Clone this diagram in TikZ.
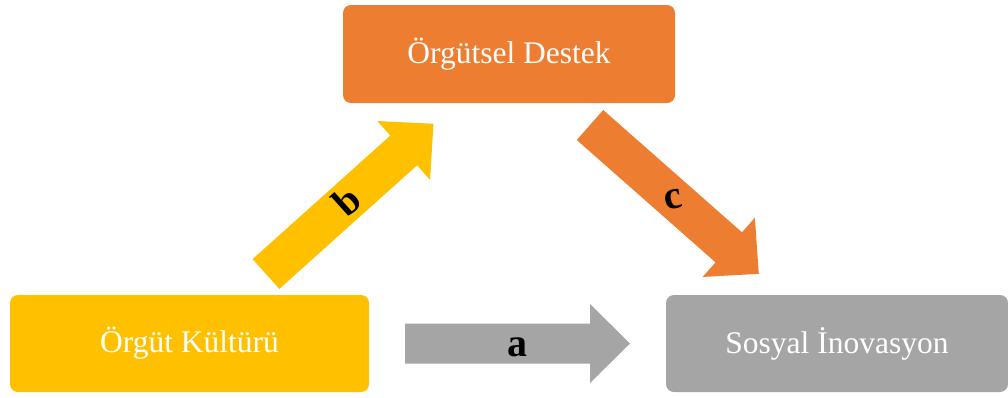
\documentclass[tikz,border=0pt]{standalone}
\usepackage{fontspec}
\setmainfont{Liberation Serif}
\definecolor{orgorange}{HTML}{ED7D31}
\definecolor{orgyellow}{HTML}{FFC000}
\definecolor{orggray}{HTML}{A5A5A5}
% filled block arrow: tail centre, angle, colour
\newcommand\blockarrow[3]{%
  \fill[#3, shift={#1}, rotate=#2]
    (0,-20) -- (185,-20) -- (185,-39.5) -- (225,0) -- (185,39.5) -- (185,20) -- (0,20) -- cycle;}
\begin{document}
\begin{tikzpicture}[x=1pt, y=-1pt,
  box/.style={rectangle, rounded corners=8pt, draw=none, text=white,
    font=\fontsize{31.5}{36}\selectfont, inner sep=0pt},
  arrowlabel/.style={font=\fontsize{40}{44}\selectfont\bfseries, text=black, inner sep=0pt}]
\useasboundingbox (0,0) rectangle (1008,397);

% boxes
\node[box, fill=orgorange, minimum width=332pt, minimum height=98pt] (destek) at (509,54) {Örgütsel Destek};
\node[box, fill=orgyellow, minimum width=359pt, minimum height=97pt] (kultur) at (189.5,343.5) {Örgüt Kültürü};
\node[box, fill=orggray, minimum width=342pt, minimum height=97pt] (inovasyon) at (837,343.5) {Sosyal İnovasyon};

% block arrows
\blockarrow{(405,343.5)}{0}{orggray}
\blockarrow{(266,274)}{41.9}{orgyellow}
\blockarrow{(590,125)}{-41.4}{orgorange}

% arrow labels
\node[arrowlabel] (la) at (517,347) {a};
\node[arrowlabel, rotate=41.9] (lb) at (347,201) {b};
\node[arrowlabel, rotate=12] (lc) at (673,200) {c};
\end{tikzpicture}
\end{document}
